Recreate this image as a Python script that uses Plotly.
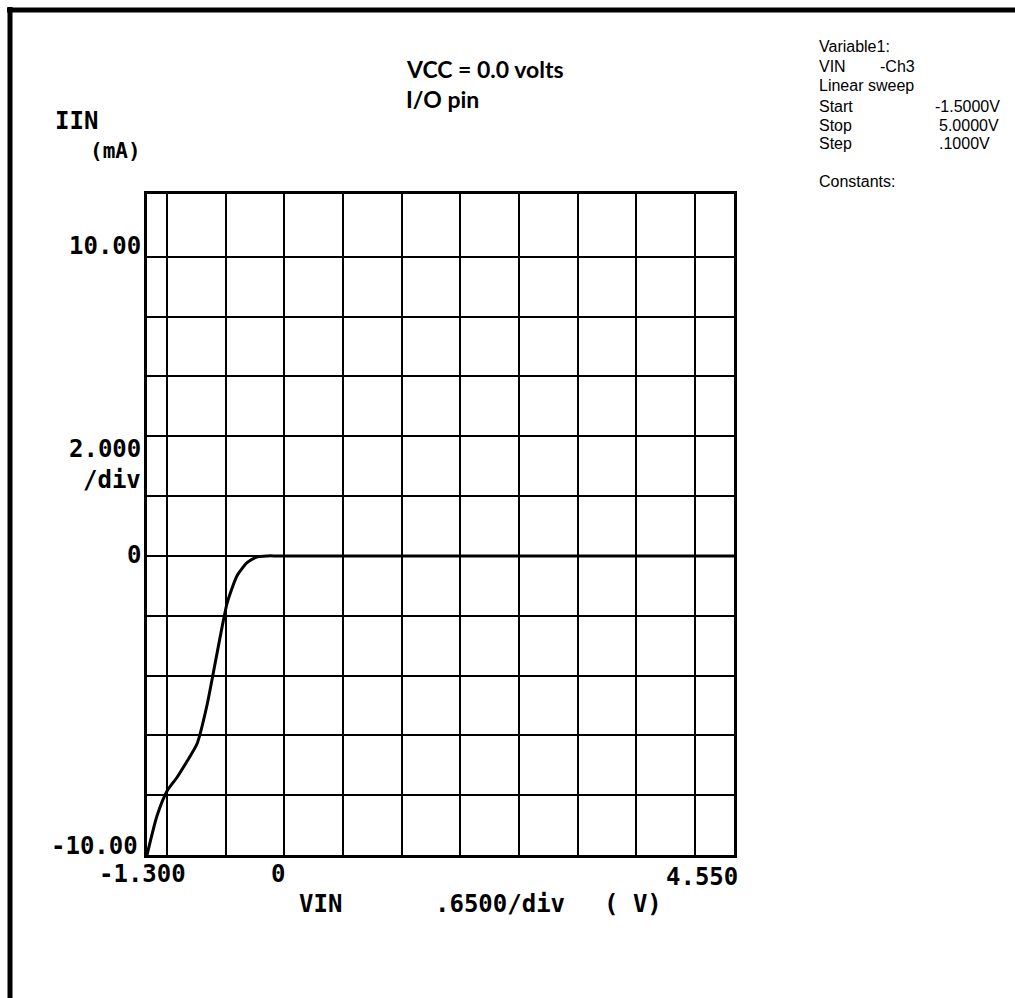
import plotly.graph_objects as go

# ---- data ----
vin = [-1.3, -1.2, -1.1, -1.0, -0.9, -0.8, -0.7, -0.6, -0.5, -0.4, -0.3, -0.2, -0.1,
       0.0, 1.0, 2.0, 3.0, 4.0, 4.55]
iin = [-10.0, -8.69, -7.86, -7.40, -6.86, -6.27, -4.96, -3.22, -1.56, -0.65, -0.22, -0.03, 0.0,
       0.0, 0.0, 0.0, 0.0, 0.0, 0.0]

x_range = [-1.3, 4.55]
y_range = [-10.0, 12.1]
y_grid = [-8, -6, -4, -2, 0, 2, 4, 6, 8, 10]

x_labels = ["-1.300", "0", "4.550"]

info_left = ["Variable1:", "VIN", "Linear sweep", "Start", "Stop", "Step", "Constants:"]
info_right = ["", "-Ch3", "", "-1.5000V", "5.0000V", ".1000V", ""]

# ---- figure geometry (pixels) ----
W, H = 1015, 998
L, R, T, B = 147, 734, 194, 855


def px(x):
    return (x - L) / (R - L)


def py(y):
    return (B - y) / (B - T)


MONO = "DejaVu Sans Mono"
fig = go.Figure()
fig.add_trace(go.Scatter(x=vin, y=iin, mode="lines",
                         line=dict(color="black", width=3, shape="spline", smoothing=0.6),
                         hoverinfo="skip", showlegend=False))

fig.update_layout(
    width=W, height=H,
    margin=dict(l=L, r=W - R, t=T, b=H - B, pad=0),
    paper_bgcolor="white", plot_bgcolor="white",
    showlegend=False,
    xaxis=dict(range=x_range, tick0=-1.101, dtick=0.5847, showgrid=True,
               gridcolor="black", gridwidth=2, showticklabels=False, ticks="",
               zeroline=False, showline=True, linecolor="black", linewidth=3,
               mirror=True, fixedrange=True),
    yaxis=dict(range=y_range, tickmode="array", tickvals=y_grid, showgrid=True,
               gridcolor="black", gridwidth=2, showticklabels=False, ticks="",
               zeroline=False, showline=True, linecolor="black", linewidth=3,
               mirror=True, fixedrange=True),
)

ann = []


def add(text, x, y, xanchor="center", size=24, family=MONO, bold=True, yanchor="middle"):
    ann.append(dict(text=("<b>%s</b>" % text) if bold else text,
                    x=px(x), y=py(y), xref="paper", yref="paper",
                    xanchor=xanchor, yanchor=yanchor, showarrow=False,
                    font=dict(family=family, size=size, color="black")))


# axis texts
add("IIN", 53, 121, xanchor="left")
add("(mA)", 88, 151, xanchor="left", size=21)
add("10.00", 143, 246, xanchor="right")
add("2.000", 143, 449, xanchor="right")
add("/div", 143, 480, xanchor="right")
add("0", 143, 555, xanchor="right")
add("-10.00", 140, 846, xanchor="right")
add(x_labels[0], 142, 874)
add(x_labels[1], 278, 874)
add(x_labels[2], 702, 877)
add("VIN", 320, 904)
add(".6500/div", 500, 904)
add("( V)", 633, 904)

# title
add("VCC = 0.0 volts", 404, 69, xanchor="left", size=23, family="Lato", bold=True)
add("I/O pin", 404, 99, xanchor="left", size=23, family="Lato", bold=True)

# info block
line_y = [46, 66, 86, 106, 125, 144, 181]
for i, t in enumerate(info_left):
    add(t, 817, line_y[i], xanchor="left", size=16, family="Liberation Sans", bold=False)
right_x = [0, 878, 0, 933, 937, 937, 0]
for i, t in enumerate(info_right):
    if t:
        add(t, right_x[i], line_y[i], xanchor="left", size=16, family="Liberation Sans", bold=False)

fig.update_layout(annotations=ann)

# page border (top and left)
fig.add_shape(type="line", xref="paper", yref="paper",
              x0=px(7), x1=px(1015), y0=py(10), y1=py(10),
              line=dict(color="black", width=5))
fig.add_shape(type="line", xref="paper", yref="paper",
              x0=px(10), x1=px(10), y0=py(7), y1=py(998),
              line=dict(color="black", width=5))

fig.write_html("out.html")
